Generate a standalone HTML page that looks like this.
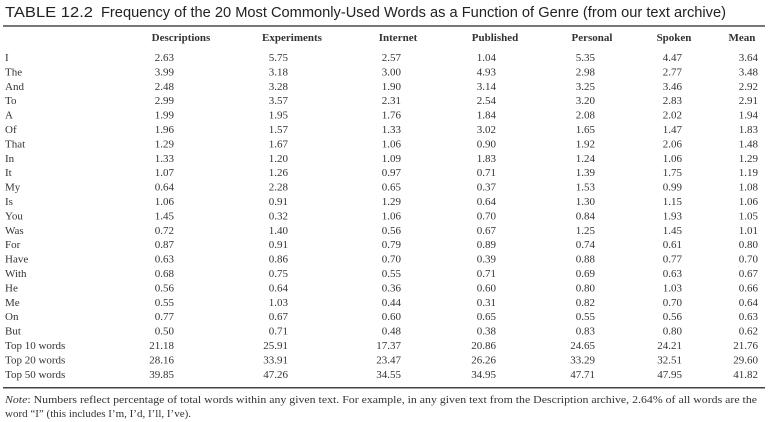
<!DOCTYPE html>
<html><head><meta charset="utf-8"><style>
html,body{margin:0;padding:0;background:#fff;}
svg{display:block;}
text{font-family:"Liberation Serif",serif;font-size:11px;fill:#333;}
.h{font-weight:bold;text-anchor:middle;}
.n{text-anchor:end;}
</style></head><body>
<svg width="768" height="422" viewBox="0 0 768 422">
<text x="5" y="17" style="font-family:'Liberation Sans',sans-serif;font-size:14.5px;fill:#222" textLength="88" lengthAdjust="spacingAndGlyphs">TABLE 12.2</text>
<text x="101" y="17" style="font-family:'Liberation Sans',sans-serif;font-size:14.5px;fill:#222" textLength="625" lengthAdjust="spacingAndGlyphs">Frequency of the 20 Most Commonly-Used Words as a Function of Genre (from our text archive)</text>
<rect x="3" y="25" width="762" height="2" fill="#777"/>
<g transform="translate(0,41)">
<text class="h" x="181" y="0">Descriptions</text>
<text class="h" x="292" y="0">Experiments</text>
<text class="h" x="398" y="0">Internet</text>
<text class="h" x="495" y="0">Published</text>
<text class="h" x="592" y="0">Personal</text>
<text class="h" x="674" y="0">Spoken</text>
<text class="h" x="742" y="0">Mean</text>
</g>
<g id="rows"></g>
<rect x="3" y="387" width="762" height="1.5" fill="#444"/>
<text x="5" y="403" textLength="752" lengthAdjust="spacingAndGlyphs"><tspan font-style="italic">Note</tspan>: Numbers reflect percentage of total words within any given text. For example, in any given text from the Description archive, 2.64% of all words are the</text>
<text x="5" y="417">word “I” (this includes I’m, I’d, I’ll, I’ve).</text>
</svg>
<script>
var d=[["I","2.63","5.75","2.57","1.04","5.35","4.47","3.64"],
["The","3.99","3.18","3.00","4.93","2.98","2.77","3.48"],
["And","2.48","3.28","1.90","3.14","3.25","3.46","2.92"],
["To","2.99","3.57","2.31","2.54","3.20","2.83","2.91"],
["A","1.99","1.95","1.76","1.84","2.08","2.02","1.94"],
["Of","1.96","1.57","1.33","3.02","1.65","1.47","1.83"],
["That","1.29","1.67","1.06","0.90","1.92","2.06","1.48"],
["In","1.33","1.20","1.09","1.83","1.24","1.06","1.29"],
["It","1.07","1.26","0.97","0.71","1.39","1.75","1.19"],
["My","0.64","2.28","0.65","0.37","1.53","0.99","1.08"],
["Is","1.06","0.91","1.29","0.64","1.30","1.15","1.06"],
["You","1.45","0.32","1.06","0.70","0.84","1.93","1.05"],
["Was","0.72","1.40","0.56","0.67","1.25","1.45","1.01"],
["For","0.87","0.91","0.79","0.89","0.74","0.61","0.80"],
["Have","0.63","0.86","0.70","0.39","0.88","0.77","0.70"],
["With","0.68","0.75","0.55","0.71","0.69","0.63","0.67"],
["He","0.56","0.64","0.36","0.60","0.80","1.03","0.66"],
["Me","0.55","1.03","0.44","0.31","0.82","0.70","0.64"],
["On","0.77","0.67","0.60","0.65","0.55","0.56","0.63"],
["But","0.50","0.71","0.48","0.38","0.83","0.80","0.62"],
["Top 10 words","21.18","25.91","17.37","20.86","24.65","24.21","21.76"],
["Top 20 words","28.16","33.91","23.47","26.26","33.29","32.51","29.60"],
["Top 50 words","39.85","47.26","34.55","34.95","47.71","47.95","41.82"]];
var xs=[174,288,401,496,595,682,758],s="";
for(var i=0;i<d.length;i++){var y=(61+i*14.4).toFixed(1);
s+='<text x="5" y="'+y+'">'+d[i][0]+'</text>';
for(var j=1;j<8;j++)s+='<text class="n" x="'+xs[j-1]+'" y="'+y+'">'+d[i][j]+'</text>';}
document.getElementById('rows').innerHTML=s;
</script>
</body></html>
